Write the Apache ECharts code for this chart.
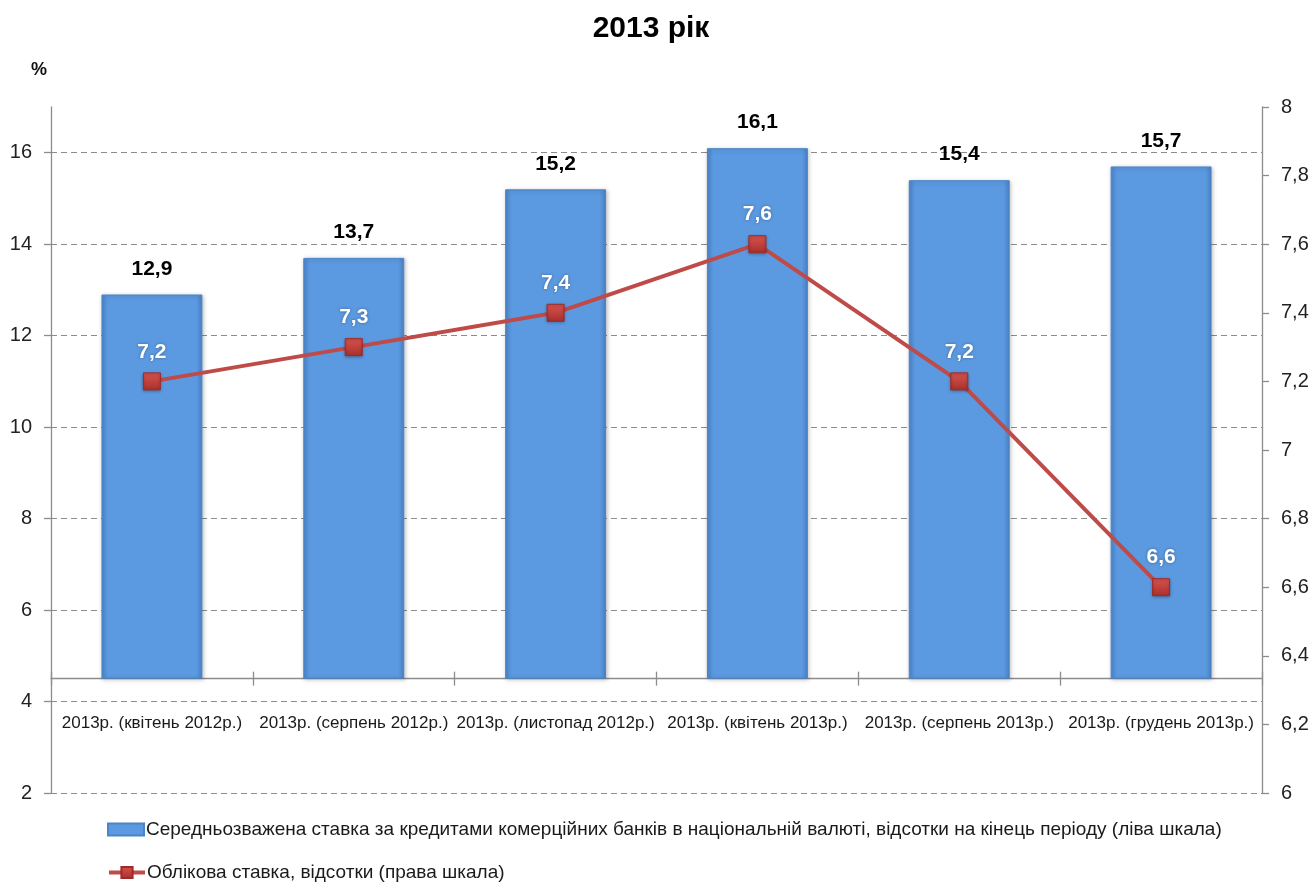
<!DOCTYPE html>
<html>
<head>
<meta charset="utf-8">
<script src="https://cdn.jsdelivr.net/npm/echarts@6/dist/echarts.min.js"></script>
<style>
html,body{margin:0;padding:0;background:#fff;}
#chart{width:1314px;height:883px;}
</style>
</head>
<body>
<div id="chart"></div>
<script>
const categories = [
  '2013р. (квітень 2012р.)',
  '2013р. (серпень 2012р.)',
  '2013р. (листопад 2012р.)',
  '2013р. (квітень 2013р.)',
  '2013р. (серпень 2013р.)',
  '2013р. (грудень 2013р.)'
];
const loanRate = [12.9, 13.7, 15.2, 16.1, 15.4, 15.7];
const discountRate = [7.2, 7.3, 7.4, 7.6, 7.2, 6.6];
const leftTicks = [2, 4, 6, 8, 10, 12, 14, 16];
const rightTicks = [6, 6.2, 6.4, 6.6, 6.8, 7, 7.2, 7.4, 7.6, 7.8, 8];
const seriesNames = [
  'Середньозважена ставка за кредитами комерційних банків в національній валюті, відсотки на кінець періоду (ліва шкала)',
  'Облікова ставка, відсотки (права шкала)'
];

const leftMin = 2, leftMax = 17, crossAt = 4.5;
const gridTop = 107, gridBottom = 90, chartH = 883;
const gridH = chartH - gridTop - gridBottom;
const axisOffset = -(crossAt - leftMin) / (leftMax - leftMin) * gridH;
const fmt = v => String(+(+v).toFixed(1)).replace('.', ',');
const FONT = '"Liberation Sans", Arial, sans-serif';
const legendText = {fontFamily: FONT, fontSize: 19, color: '#1a1a1a', padding: [0, 0, 0, -3]};

const chart = echarts.init(document.getElementById('chart'), null, {renderer: 'canvas'});
chart.setOption({
  animation: false,
  backgroundColor: '#ffffff',
  title: [
    {text: '2013 рік', left: 646, textAlign: 'center', top: 9,
     textStyle: {fontFamily: FONT, fontWeight: 'bold', fontSize: 30, color: '#000'}},
    {text: '%', left: 26, top: 56,
     textStyle: {fontFamily: FONT, fontWeight: 'bold', fontSize: 18, color: '#111'}}
  ],
  legend: [{
    left: 107, top: 820, padding: 0, itemWidth: 36, itemHeight: 12,
    data: [{name: seriesNames[0], icon: 'rect'}],
    textStyle: legendText
  }, {
    left: 107, top: 863, padding: 0, itemWidth: 36, itemHeight: 14,
    data: [{name: seriesNames[1]}],
    lineStyle: {width: 4},
    textStyle: legendText
  }],
  grid: {left: 51, right: 52, top: gridTop, bottom: gridBottom},
  xAxis: [{
    type: 'category', data: categories, position: 'bottom', offset: axisOffset,
    axisLine: {onZero: false, lineStyle: {color: '#8c8c8c', width: 1.3}},
    axisTick: {show: true, length: 7, lineStyle: {color: '#8c8c8c', width: 1.3}},
    axisLabel: {interval: 0, margin: 36, fontFamily: FONT, fontSize: 17, color: '#1a1a1a'},
    splitLine: {show: false}
  }, {
    type: 'category', data: categories, position: 'bottom', offset: axisOffset,
    axisLine: {show: false},
    axisTick: {show: true, inside: true, length: 7, lineStyle: {color: '#8c8c8c', width: 1.3}},
    axisLabel: {show: false},
    splitLine: {show: false}
  }],
  yAxis: [{
    type: 'value', min: leftMin, max: leftMax, interval: 2,
    axisLine: {show: true, lineStyle: {color: '#8c8c8c', width: 1.3}},
    axisTick: {show: true, length: 7, customValues: leftTicks, lineStyle: {color: '#8c8c8c', width: 1.3}},
    axisLabel: {margin: 19, customValues: leftTicks, fontFamily: FONT, fontSize: 20, color: '#222'},
    splitLine: {show: true, lineStyle: {color: '#8c8c8c', type: [6, 4], width: 1.2}}
  }, {
    type: 'value', min: 6, max: 8, interval: 0.2, position: 'right',
    axisLine: {show: true, lineStyle: {color: '#8c8c8c', width: 1.3}},
    axisTick: {show: true, length: 7, customValues: rightTicks, lineStyle: {color: '#8c8c8c', width: 1.3}},
    axisLabel: {margin: 19, customValues: rightTicks, fontFamily: FONT, fontSize: 20, color: '#222', formatter: fmt},
    splitLine: {show: false}
  }],
  series: [{
    name: 'base', type: 'bar', stack: 'loan', silent: true,
    data: categories.map(() => crossAt),
    itemStyle: {color: 'rgba(0,0,0,0)'},
    barWidth: '50%', tooltip: {show: false}
  }, {
    name: seriesNames[0], type: 'bar', stack: 'loan',
    data: loanRate.map(v => +(v - crossAt).toFixed(2)),
    barWidth: '50%',
    itemStyle: {
      color: new echarts.graphic.LinearGradient(0, 0, 1, 0, [
        {offset: 0, color: '#4C86CC'},
        {offset: 0.06, color: '#5B99E0'},
        {offset: 0.94, color: '#5B99E0'},
        {offset: 1, color: '#4A82C6'}
      ]),
      borderColor: '#4B84C8', borderWidth: 1,
      shadowColor: 'rgba(0,0,0,0.25)', shadowBlur: 4, shadowOffsetX: 1, shadowOffsetY: 1
    },
    label: {
      show: true, position: 'top', distance: 15,
      formatter: p => fmt(loanRate[p.dataIndex]),
      fontFamily: FONT, fontWeight: 'bold', fontSize: 21, color: '#000'
    }
  }, {
    name: seriesNames[1], type: 'line', yAxisIndex: 1,
    data: discountRate,
    symbol: 'rect', symbolSize: 17,
    lineStyle: {color: '#BF4B48', width: 4},
    itemStyle: {
      color: new echarts.graphic.LinearGradient(0, 0, 0, 1, [
        {offset: 0, color: '#D9534F'},
        {offset: 1, color: '#A8302C'}
      ]),
      borderColor: '#9E2B27', borderWidth: 1,
      shadowColor: 'rgba(0,0,0,0.3)', shadowBlur: 3, shadowOffsetY: 1
    },
    label: {
      show: true, position: 'top', distance: 10,
      formatter: p => fmt(p.value),
      fontFamily: FONT, fontWeight: 'bold', fontSize: 21, color: '#fff',
      textShadowColor: 'rgba(0,0,0,0.35)', textShadowBlur: 3
    },
    z: 5
  }]
});
</script>
</body>
</html>
